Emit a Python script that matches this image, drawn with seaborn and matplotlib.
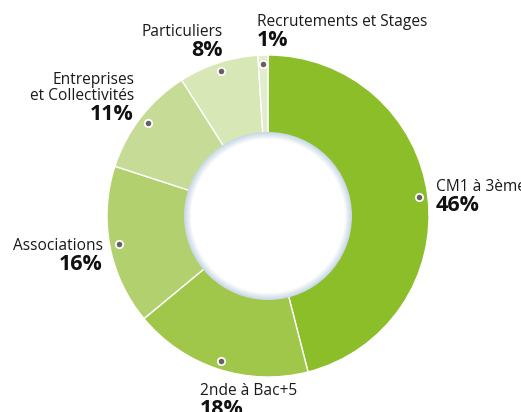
import matplotlib.pyplot as plt
import numpy as np
import seaborn as sns
from matplotlib.patches import Circle

W, H = 521, 412

categories = ["CM1 à 3ème", "2nde à Bac+5", "Associations",
              "Entreprises\net Collectivités", "Particuliers", "Recrutements et Stages"]
shares = [46, 18, 16, 11, 8, 1]
colors = ["#8bbe29", "#a0c64a", "#b3d06f", "#c6dc96", "#d8e7b6", "#e1edcc"]

# label anchors in image pixels: (x, baseline y, alignment)
label_pos = [
    (436, 191, "left"),
    (200, 395, "left"),
    (103, 250, "right"),
    (134, 100, "right"),
    (223, 36, "right"),
    (257, 26, "left"),
]

CX, CY = 268, 216
R_OUT, R_IN, R_DOT = 161, 84, 152

sns.set_theme(style="white")
plt.rcParams["font.family"] = ["Open Sans", "DejaVu Sans"]

fig = plt.figure(figsize=(W / 100, H / 100), dpi=100)
ax = fig.add_axes([0, 0, 1, 1])

wedges, _ = ax.pie(
    shares, colors=colors, startangle=90, counterclock=False,
    radius=R_OUT, center=(CX, H - CY),
    wedgeprops=dict(width=R_OUT - R_IN + 4, edgecolor="white", linewidth=1),
)

# soft bluish rim around the white hole
rim = sns.blend_palette(["#c9d9e6", "#ffffff"], 8)
for shade, r in zip(rim, np.linspace(R_IN, R_IN - 7, 8)):
    ax.add_patch(Circle((CX, H - CY), r, facecolor=shade, edgecolor="none", zorder=3))
ax.add_patch(Circle((CX, H - CY), R_IN - 7, facecolor="white", edgecolor="none", zorder=3))

for w, name, val, (lx, ly, ha) in zip(wedges, categories, shares, label_pos):
    mid = np.deg2rad((w.theta1 + w.theta2) / 2)
    ax.scatter(CX + R_DOT * np.cos(mid), H - CY + R_DOT * np.sin(mid),
               s=28, color="#6b5f63", edgecolor="white", linewidth=1.3, zorder=4)
    ax.text(lx, H - ly, name, ha=ha, va="baseline", fontsize=11.2,
            color="#1a1a1a", linespacing=1.0)
    ax.text(lx, H - ly - 20, f"{val}%", ha=ha, va="baseline", fontsize=15.5,
            fontweight="bold", color="#111111")

ax.set_xlim(0, W)
ax.set_ylim(0, H)
ax.set_aspect("equal")
ax.axis("off")

fig.savefig("out.png", dpi=100)
